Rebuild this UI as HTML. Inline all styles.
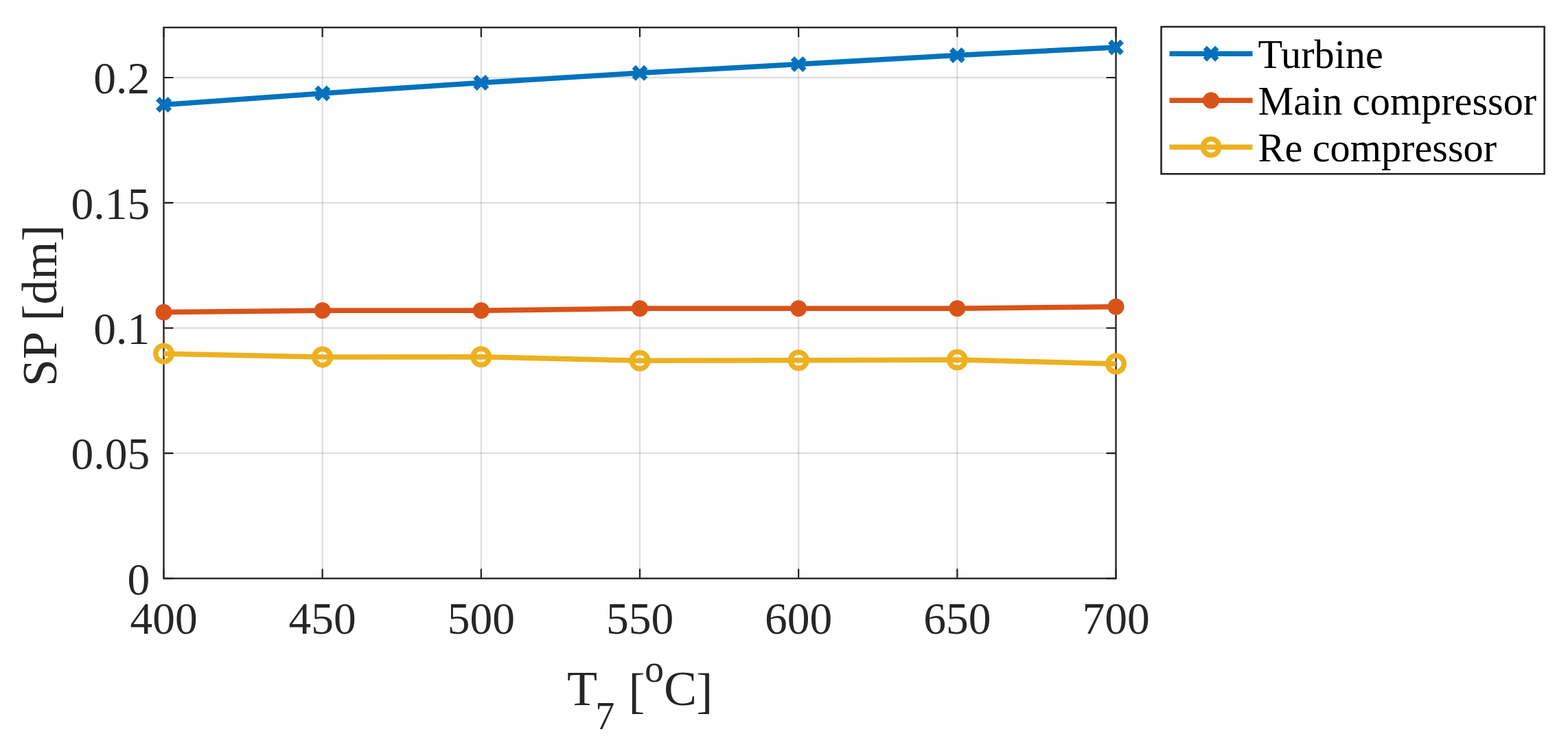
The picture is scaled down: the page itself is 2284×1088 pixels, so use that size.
<!DOCTYPE html>
<html><head><meta charset="utf-8"><title>SP vs T7</title>
<style>
html,body{margin:0;padding:0;background:#fff;}
body{width:2284px;height:1088px;overflow:hidden;}
svg{display:block;}
text{font-family:"Liberation Serif","Times New Roman",serif;}
</style></head><body>
<svg width="2284" height="1088" viewBox="0 0 2284 1088">
<rect x="0" y="0" width="2284" height="1088" fill="#fff"/>
<g stroke="#262626" stroke-opacity="0.15" stroke-width="2.4" fill="none"><path d="M469.67 40.0V842.5"/><path d="M700.83 40.0V842.5"/><path d="M932.00 40.0V842.5"/><path d="M1163.17 40.0V842.5"/><path d="M1394.33 40.0V842.5"/><path d="M238.5 660.11H1625.5"/><path d="M238.5 477.73H1625.5"/><path d="M238.5 295.34H1625.5"/><path d="M238.5 112.95H1625.5"/></g>
<path d="M238.50 842.5v-14M238.50 40.0v14M469.67 842.5v-14M469.67 40.0v14M700.83 842.5v-14M700.83 40.0v14M932.00 842.5v-14M932.00 40.0v14M1163.17 842.5v-14M1163.17 40.0v14M1394.33 842.5v-14M1394.33 40.0v14M1625.50 842.5v-14M1625.50 40.0v14M238.5 842.50h14M1625.5 842.50h-14M238.5 660.11h14M1625.5 660.11h-14M238.5 477.73h14M1625.5 477.73h-14M238.5 295.34h14M1625.5 295.34h-14M238.5 112.95h14M1625.5 112.95h-14" stroke="#1a1a1a" stroke-width="2.1" fill="none"/>
<rect x="238.5" y="40.0" width="1387.0" height="802.5" stroke="#262626" stroke-width="2.4" fill="none"/>
<g fill="#262626" font-size="65.5" text-anchor="middle">
<text x="238.50" y="922.8">400</text>
<text x="469.67" y="922.8">450</text>
<text x="700.83" y="922.8">500</text>
<text x="932.00" y="922.8">550</text>
<text x="1163.17" y="922.8">600</text>
<text x="1394.33" y="922.8">650</text>
<text x="1625.50" y="922.8">700</text>
</g>
<g fill="#262626" font-size="65.5" text-anchor="end">
<text x="218.2" y="865.80">0</text>
<text x="218.2" y="683.41">0.05</text>
<text x="218.2" y="501.03">0.1</text>
<text x="218.2" y="318.64">0.15</text>
<text x="218.2" y="136.25">0.2</text>
</g>
<polyline points="238.50,152.5 469.67,135.9 700.83,120.5 932.00,106.3 1163.17,93.5 1394.33,80.5 1625.50,69.0" stroke="#0072BD" stroke-width="7.5" fill="none" stroke-linejoin="round"/>
<path d="M229.70 143.70L247.30 161.30M229.70 161.30L247.30 143.70" stroke="#0072BD" stroke-width="7.6" fill="none"/>
<path d="M460.87 127.10L478.47 144.70M460.87 144.70L478.47 127.10" stroke="#0072BD" stroke-width="7.6" fill="none"/>
<path d="M692.03 111.70L709.63 129.30M692.03 129.30L709.63 111.70" stroke="#0072BD" stroke-width="7.6" fill="none"/>
<path d="M923.20 97.50L940.80 115.10M923.20 115.10L940.80 97.50" stroke="#0072BD" stroke-width="7.6" fill="none"/>
<path d="M1154.37 84.70L1171.97 102.30M1154.37 102.30L1171.97 84.70" stroke="#0072BD" stroke-width="7.6" fill="none"/>
<path d="M1385.53 71.70L1403.13 89.30M1385.53 89.30L1403.13 71.70" stroke="#0072BD" stroke-width="7.6" fill="none"/>
<path d="M1616.70 60.20L1634.30 77.80M1616.70 77.80L1634.30 60.20" stroke="#0072BD" stroke-width="7.6" fill="none"/>
<polyline points="238.50,454.65 469.67,452.25 700.83,452.25 932.00,449.2 1163.17,449.2 1394.33,449.2 1625.50,446.7" stroke="#D95319" stroke-width="7.5" fill="none" stroke-linejoin="round"/>
<circle cx="238.50" cy="454.65" r="12" fill="#D95319"/>
<circle cx="469.67" cy="452.25" r="12" fill="#D95319"/>
<circle cx="700.83" cy="452.25" r="12" fill="#D95319"/>
<circle cx="932.00" cy="449.2" r="12" fill="#D95319"/>
<circle cx="1163.17" cy="449.2" r="12" fill="#D95319"/>
<circle cx="1394.33" cy="449.2" r="12" fill="#D95319"/>
<circle cx="1625.50" cy="446.7" r="12" fill="#D95319"/>
<polyline points="238.50,515.1 469.67,520.1 700.83,519.8 932.00,525.2 1163.17,524.8 1394.33,524.0 1625.50,529.9" stroke="#EDB120" stroke-width="7.5" fill="none" stroke-linejoin="round"/>
<circle cx="238.50" cy="515.1" r="11.8" fill="none" stroke="#EDB120" stroke-width="7.5"/>
<circle cx="469.67" cy="520.1" r="11.8" fill="none" stroke="#EDB120" stroke-width="7.5"/>
<circle cx="700.83" cy="519.8" r="11.8" fill="none" stroke="#EDB120" stroke-width="7.5"/>
<circle cx="932.00" cy="525.2" r="11.8" fill="none" stroke="#EDB120" stroke-width="7.5"/>
<circle cx="1163.17" cy="524.8" r="11.8" fill="none" stroke="#EDB120" stroke-width="7.5"/>
<circle cx="1394.33" cy="524.0" r="11.8" fill="none" stroke="#EDB120" stroke-width="7.5"/>
<circle cx="1625.50" cy="529.9" r="11.8" fill="none" stroke="#EDB120" stroke-width="7.5"/>
<g fill="#262626">
<text x="825.9" y="1026.8" font-size="72">T</text>
<text x="867.3" y="1062" font-size="56">7</text>
<text x="915.6" y="1030.3" font-size="72">[</text>
<text x="938.9" y="993" font-size="56">o</text>
<text x="967" y="1026.8" font-size="72">C</text>
<text x="1014.3" y="1030.3" font-size="72">]</text>
<text transform="translate(81.5 563) rotate(-90)" font-size="72">SP [dm]</text>
</g>
<rect x="1691.5" y="39" width="558.1" height="214.3" fill="#fff" stroke="#262626" stroke-width="2.6"/>
<path d="M1703.5 78.2H1824.5" stroke="#0072BD" stroke-width="7.5"/>
<path d="M1755.20 69.40L1772.80 87.00M1755.20 87.00L1772.80 69.40" stroke="#0072BD" stroke-width="7.6" fill="none"/>
<text x="1832.6" y="98.8" font-size="58.2" fill="#000">Turbine</text>
<path d="M1703.5 146.3H1824.5" stroke="#D95319" stroke-width="7.5"/>
<circle cx="1764" cy="146.3" r="12" fill="#D95319"/>
<text x="1832.6" y="166.9" font-size="58.2" fill="#000">Main compressor</text>
<path d="M1703.5 214.3H1824.5" stroke="#EDB120" stroke-width="7.5"/>
<circle cx="1764" cy="214.3" r="11.8" fill="none" stroke="#EDB120" stroke-width="7.5"/>
<text x="1832.6" y="235.0" font-size="58.2" fill="#000">Re compressor</text>
</svg>
</body></html>
